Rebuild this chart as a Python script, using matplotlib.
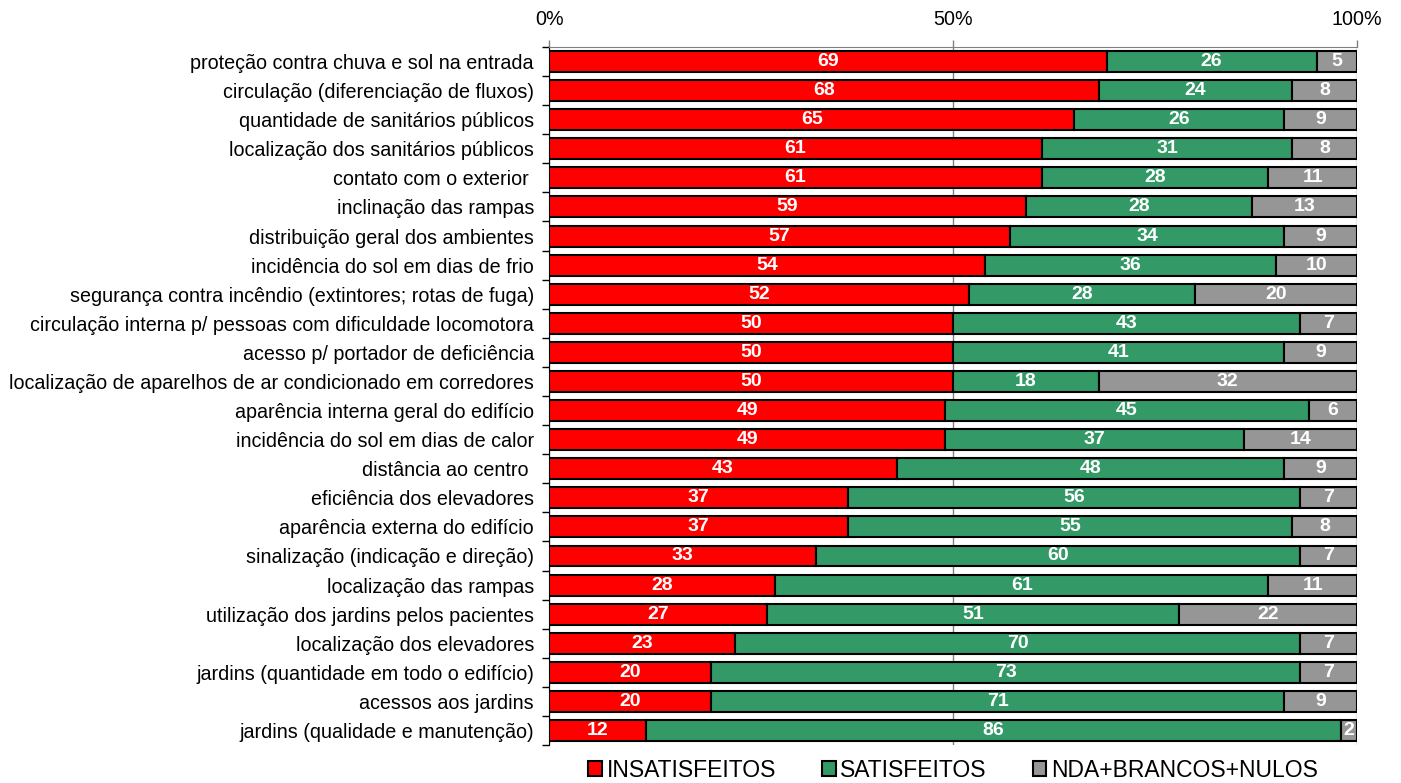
import matplotlib.pyplot as plt
import numpy as np

plt.rcParams['font.family'] = ['Liberation Sans', 'DejaVu Sans']

# data (top to bottom)
categories = [
    "proteção contra chuva e sol na entrada",
    "circulação (diferenciação de fluxos)",
    "quantidade de sanitários públicos",
    "localização dos sanitários públicos",
    "contato com o exterior ",
    "inclinação das rampas",
    "distribuição geral dos ambientes",
    "incidência do sol em dias de frio",
    "segurança contra incêndio (extintores; rotas de fuga)",
    "circulação interna p/ pessoas com dificuldade locomotora",
    "acesso p/ portador de deficiência",
    "localização de aparelhos de ar condicionado em corredores",
    "aparência interna geral do edifício",
    "incidência do sol em dias de calor",
    "distância ao centro ",
    "eficiência dos elevadores",
    "aparência externa do edifício",
    "sinalização (indicação e direção)",
    "localização das rampas",
    "utilização dos jardins pelos pacientes",
    "localização dos elevadores",
    "jardins (quantidade em todo o edifício)",
    "acessos aos jardins",
    "jardins (qualidade e manutenção)",
]
insatisfeitos = [69, 68, 65, 61, 61, 59, 57, 54, 52, 50, 50, 50, 49, 49, 43, 37, 37, 33, 28, 27, 23, 20, 20, 12]
satisfeitos = [26, 24, 26, 31, 28, 28, 34, 36, 28, 43, 41, 18, 45, 37, 48, 56, 55, 60, 61, 51, 70, 73, 71, 86]
nda = [5, 8, 9, 8, 11, 13, 9, 10, 20, 7, 9, 32, 6, 14, 9, 7, 8, 7, 11, 22, 7, 7, 9, 2]

series = [
    ("INSATISFEITOS", insatisfeitos, "#FF0000"),
    ("SATISFEITOS", satisfeitos, "#339966"),
    ("NDA+BRANCOS+NULOS", nda, "#969696"),
]

fig = plt.figure(figsize=(14.01, 7.83), dpi=100)
ax = fig.add_axes([0.392, 0.0485, 0.5766, 0.8915])

y = np.arange(len(categories))
left = np.zeros(len(categories))
for name, vals, color in series:
    vals = np.array(vals, dtype=float)
    ax.barh(y, vals, left=left, height=0.72, color=color, edgecolor='black',
            linewidth=1.5, label=name, zorder=3)
    for yi, l, v in zip(y, left, vals):
        ax.text(l + v / 2, yi, f"{int(v)}", ha='center', va='center',
                color='white', fontweight='bold', fontsize=14, zorder=4)
    left += vals

ax.set_xlim(0, 100)
ax.set_ylim(len(categories) - 0.5, -0.5)
ax.set_yticks(y)
ax.set_yticklabels(categories, fontsize=14.2)
ax.tick_params(axis='y', length=0, pad=11)
ax.set_yticks(np.arange(-0.5, len(categories), 1), minor=True)
ax.tick_params(axis='y', which='minor', length=5, width=1, direction='out')

ax.xaxis.tick_top()
ax.set_xticks([0, 50, 100])
ax.set_xticklabels(["0%", "50%", "100%"], fontsize=14.2)
ax.tick_params(axis='x', length=5, width=1, color='#808080', pad=8)
ax.grid(axis='x', color='#808080', linewidth=1, zorder=0)

for s in ['right', 'bottom']:
    ax.spines[s].set_visible(False)
ax.spines['top'].set_color('#808080')
ax.spines['left'].set_color('black')

ax.legend(loc='upper center', bbox_to_anchor=(0.5, -0.0), ncol=3, frameon=False,
          fontsize=16.5, handlelength=0.6, handleheight=0.6, handletextpad=0.2,
          columnspacing=2.0, borderaxespad=0.2)

plt.savefig('out.png', dpi=100)
